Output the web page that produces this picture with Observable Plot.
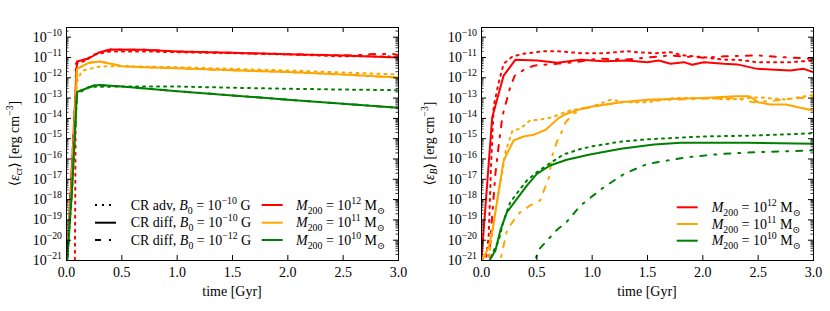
<!DOCTYPE html>
<html><head><meta charset="utf-8">
<script src="https://cdn.jsdelivr.net/npm/d3@7"></script>
<script src="https://cdn.jsdelivr.net/npm/@observablehq/plot@0.6"></script>
<style>body{margin:0;background:#fff} #wrap{display:flex;width:830px;height:311px;overflow:hidden}</style>
</head><body><div id="wrap"></div>
<script>
// ---- data: [time in Gyr, log10(energy density in erg cm^-3)] ----
// left panel: cosmic-ray energy density <eps_cr>
const crAdv12   = [[0.075,-22],[0.085,-11.3],[0.15,-11.2],[0.25,-10.85],[0.4,-10.7],[0.7,-10.7],[1.0,-10.74],[1.5,-10.79],[2.0,-10.85],[2.5,-10.94],[3.0,-10.95]];
const crDiff12  = [[0,-21.5],[0.05,-16.3],[0.095,-11.2],[0.2,-11.05],[0.3,-10.74],[0.4,-10.61],[0.7,-10.62],[1.0,-10.7],[1.5,-10.77],[2.0,-10.84],[2.5,-10.9],[3.0,-11.0]];
const crDiffB12 = [[0,-21.5],[0.05,-16.3],[0.095,-11.2],[0.2,-11.05],[0.3,-10.74],[0.4,-10.61],[0.7,-10.62],[1.0,-10.7],[1.5,-10.77],[2.0,-10.84],[2.6,-10.9],[2.8,-10.82],[2.95,-10.83],[3.0,-10.88]];
const crAdv11   = [[0,-21.5],[0.05,-17],[0.095,-12.2],[0.126,-11.8],[0.15,-11.64],[0.3,-11.44],[0.5,-11.43],[1.0,-11.48],[1.5,-11.56],[2.0,-11.64],[2.5,-11.74],[3.0,-11.84]];
const crDiff11  = [[0,-21.5],[0.05,-16.9],[0.095,-11.56],[0.2,-11.26],[0.3,-11.2],[0.4,-11.31],[0.5,-11.43],[0.7,-11.48],[1.0,-11.53],[1.5,-11.63],[2.0,-11.72],[2.5,-11.84],[3.0,-11.99]];
const crDiffB11 = [[0,-21.5],[0.05,-16.9],[0.095,-11.56],[0.2,-11.26],[0.3,-11.2],[0.4,-11.31],[0.5,-11.43],[0.7,-11.48],[1.0,-11.53],[1.5,-11.63],[2.0,-11.72],[2.5,-11.84],[3.0,-11.99]];
const crAdv10   = [[0,-21.5],[0.05,-17.5],[0.095,-12.8],[0.2,-12.45],[0.5,-12.43],[1.0,-12.43],[1.5,-12.49],[2.0,-12.54],[2.5,-12.58],[3.0,-12.61]];
const crDiff10  = [[0,-21.5],[0.05,-17.5],[0.095,-12.7],[0.25,-12.38],[0.3,-12.36],[0.5,-12.43],[1.0,-12.66],[1.5,-12.87],[2.0,-13.08],[2.5,-13.28],[3.0,-13.48]];
const crDiffB10 = [[0,-21.5],[0.05,-17.5],[0.095,-12.7],[0.25,-12.38],[0.3,-12.36],[0.5,-12.43],[1.0,-12.66],[1.5,-12.87],[2.0,-13.08],[2.5,-13.28],[3.0,-13.48]];
// right panel: magnetic energy density <eps_B>
const bAdv12   = [[0.03,-21.5],[0.066,-19.7],[0.085,-16.5],[0.11,-13.4],[0.156,-12.22],[0.2,-11.31],[0.28,-10.95],[0.38,-10.82],[0.56,-10.69],[0.71,-10.7],[0.9,-10.79],[1.1,-10.79],[1.32,-10.69],[1.4,-10.74],[1.58,-10.79],[1.71,-10.74],[1.83,-10.9],[2.01,-10.99],[2.19,-11.11],[2.31,-11.11],[2.49,-11.23],[2.79,-11.23],[3.0,-11.15]];
const bDiff12  = [[0,-20.9],[0.097,-13.94],[0.2,-11.89],[0.307,-11.11],[0.503,-11.15],[0.684,-11.26],[0.895,-11.11],[1.105,-11.18],[1.316,-11.15],[1.497,-11.23],[1.602,-11.15],[1.708,-11.31],[1.828,-11.23],[1.904,-11.36],[2.009,-11.23],[2.19,-11.31],[2.31,-11.34],[2.49,-11.56],[2.61,-11.59],[2.79,-11.64],[2.91,-11.56],[3.0,-11.72]];
const bDiffB12 = [[0.06,-21.5],[0.08,-20.0],[0.126,-16.7],[0.156,-15.3],[0.19,-13.86],[0.26,-12.46],[0.3,-11.9],[0.41,-11.51],[0.49,-11.39],[0.7,-11.3],[0.85,-11.23],[1.05,-11.06],[1.3,-11.1],[1.5,-11.0],[1.7,-10.9],[2.01,-11.01],[2.2,-10.94],[2.5,-10.9],[2.8,-11.01],[2.95,-11.05],[3.0,-11.1]];
const bAdv11   = [[0.05,-21.5],[0.097,-19.69],[0.126,-18.54],[0.19,-16.57],[0.22,-15.58],[0.28,-14.6],[0.35,-14.51],[0.44,-14.1],[0.52,-14.07],[0.62,-13.97],[0.8,-13.61],[0.98,-13.45],[1.17,-13.08],[1.3,-13.2],[1.5,-13.2],[1.75,-12.99],[2.0,-12.99],[2.25,-13.07],[2.5,-12.96],[2.75,-13.07],[3.0,-12.84]];
const bDiff11  = [[0,-21.2],[0.02,-20.84],[0.066,-20.34],[0.11,-19.19],[0.156,-17.55],[0.2,-16.07],[0.29,-15.09],[0.38,-14.89],[0.47,-14.81],[0.58,-14.56],[0.7,-13.97],[0.77,-13.77],[0.9,-13.53],[1.0,-13.41],[1.26,-13.2],[1.5,-13.08],[2.0,-12.99],[2.3,-12.91],[2.42,-12.91],[2.5,-13.2],[2.61,-13.32],[2.75,-13.32],[2.88,-13.48],[3.0,-13.61]];
const bDiffB11 = [[0.15,-21.5],[0.19,-20.5],[0.23,-19.52],[0.29,-19.03],[0.35,-18.62],[0.44,-18.29],[0.53,-18.04],[0.61,-16.9],[0.64,-15.83],[0.68,-15.17],[0.73,-14.6],[0.76,-14.19],[0.83,-13.77],[0.92,-13.53],[1.0,-13.42],[1.25,-13.22],[1.5,-13.12],[2.0,-13.03],[2.3,-13.0],[2.45,-13.2],[2.6,-13.15],[2.8,-13.03],[3.0,-12.95]];
const bAdv10   = [[0.05,-21.5],[0.097,-20.67],[0.156,-20.01],[0.2,-19.03],[0.26,-18.13],[0.34,-17.55],[0.41,-17.06],[0.5,-16.65],[0.61,-16.24],[0.74,-15.78],[0.9,-15.5],[1.0,-15.38],[1.25,-15.15],[1.5,-15.03],[2.0,-14.89],[2.5,-14.84],[3.0,-14.73]];
const bDiff10  = [[0.05,-21.5],[0.08,-20.92],[0.126,-20.51],[0.17,-19.52],[0.23,-18.62],[0.31,-18.04],[0.41,-17.31],[0.5,-16.73],[0.62,-16.32],[0.77,-16.04],[0.98,-15.78],[1.26,-15.5],[1.56,-15.29],[1.8,-15.2],[2.4,-15.2],[3.0,-15.25]];
const bDiffB10 = [[0.45,-21.5],[0.52,-20.45],[0.68,-19.5],[0.77,-19.1],[0.895,-18.29],[1.105,-17.39],[1.29,-16.73],[1.5,-16.24],[1.86,-15.91],[2.19,-15.74],[2.49,-15.66],[3.0,-15.58]];

// ---- ticks / labels ----
const xTickValues = [0, 0.5, 1.0, 1.5, 2.0, 2.5, 3.0];
const xInnerTicks = [0.5, 1.0, 1.5, 2.0, 2.5];
const yExponents = [-21,-20,-19,-18,-17,-16,-15,-14,-13,-12,-11,-10];
const yDomain = [1e-21, 3e-10];
const massExponents = ["12", "11", "10"];
const massColors = {"12": "red", "11": "orange", "10": "green"};
const styleNames = ["CR adv", "CR diff", "CR diff"];
const styleB0 = ["−10", "−10", "−12"];
const xLabel = "time [Gyr]";

// ---- layout ----
const W = 415, H = 311, ML = 66, MR = 17, MT = 27, MB = 51, FS = 14;
const FW = W - ML - MR, FH = H - MT - MB;
const DASH = {adv: "2,5", diff: undefined, diffB: "6,8,2,8"};
const LW = 2;
const FONT = "'Liberation Serif', 'DejaVu Serif', serif";

function rows(arr) { return arr.map(([t, l]) => ({t, v: Math.pow(10, l)})); }

function setRich(node, parts) {
  const t = d3.select(node);
  t.text(null).style("font-size", FS + "px").style("font-family", FONT);
  let shift = 0;
  for (const [s, k] of parts) {
    const small = k.includes("sub") || k.includes("sup");
    const target = k.includes("sub") ? 0.28 * FS : k.includes("sup") ? -0.42 * FS : 0;
    const ts = t.append("tspan").text(s).style("font-size", (small ? 0.7 * FS : FS) + "px").attr("dy", target - shift);
    if (k === "i" || k === "subi") ts.attr("font-style", "italic");
    shift = target;
  }
}

function panel(series, yLabelParts, legend) {
  const yMajor = yExponents.map(e => Math.pow(10, e));
  const yMinor = [];
  for (let e = -21; e <= -10; e++) for (let m = 2; m <= 9; m++) { const v = m * Math.pow(10, e); if (v <= yDomain[1] * 1.0001) yMinor.push(v); }
  const marks = [];
  for (const s of series) {
    marks.push(Plot.line(rows(s.data), {x: "t", y: "v", stroke: massColors[s.mass], strokeWidth: LW, strokeDasharray: DASH[s.kind], clip: true}));
  }
  marks.push(
    Plot.tickY(yMajor, {y: d => d, insetRight: FW - 5, stroke: "black", strokeWidth: 1}),
    Plot.tickY(yMajor, {y: d => d, insetLeft: FW - 5, stroke: "black", strokeWidth: 1}),
    Plot.tickY(yMinor, {y: d => d, insetRight: FW - 2.5, stroke: "black", strokeWidth: 0.8}),
    Plot.tickY(yMinor, {y: d => d, insetLeft: FW - 2.5, stroke: "black", strokeWidth: 0.8}),
    Plot.tickX(xInnerTicks, {x: d => d, insetTop: FH - 5, stroke: "black", strokeWidth: 1}),
    Plot.tickX(xInnerTicks, {x: d => d, insetBottom: FH - 5, stroke: "black", strokeWidth: 1}),
    Plot.axisX({ticks: xTickValues, tickFormat: d3.format(".1f"), tickSize: 0, tickPadding: 7, label: null, fontSize: FS}),
    Plot.axisY({ticks: yMajor, tickFormat: d => "10^" + Math.round(Math.log10(d)), tickSize: 0, tickPadding: 4.5, label: null, fontSize: FS}),
    Plot.frame({stroke: "black", strokeWidth: 1})
  );
  const svg = Plot.plot({
    width: W, height: H, marginLeft: ML, marginRight: MR, marginTop: MT, marginBottom: MB,
    style: {fontFamily: FONT, fontSize: FS + "px", color: "black", background: "white"},
    x: {domain: [0, 3]},
    y: {type: "log", domain: yDomain},
    marks
  });
  const S = d3.select(svg);
  S.selectAll("text").style("font-size", FS + "px").style("font-family", FONT).each(function () {
    const m = /^10\^(-?\d+)$/.exec(this.textContent);
    if (m) setRich(this, [["10", ""], [m[1].replace("-", "−"), "sup"]]);
  });
  // axis titles
  const yl = S.append("text").attr("transform", `translate(18.5,${MT + FH / 2}) rotate(-90)`)
    .attr("text-anchor", "middle").attr("fill", "black").node();
  setRich(yl, yLabelParts);
  S.append("text").attr("x", ML + FW / 2).attr("y", 296).attr("text-anchor", "middle").attr("fill", "black")
    .style("font-size", FS + "px").style("font-family", FONT).text(xLabel);
  // legend
  const g = S.append("g").attr("fill", "black").attr("text-anchor", "start");
  for (const item of legend) {
    g.append("line").attr("x1", item.x0).attr("x2", item.x0 + 21).attr("y1", item.y).attr("y2", item.y)
      .attr("stroke", item.color).attr("stroke-width", LW).attr("stroke-dasharray", item.dash || null);
    const tx = g.append("text").attr("x", item.tx).attr("y", item.y + 0.33 * FS).attr("text-anchor", "start").node();
    setRich(tx, item.parts);
  }
  return svg;
}

function massParts(e) { return [["M", "i"], ["200", "sub"], [" = 10", ""], [e, "sup"], [" M", ""], ["⊙", "sub"]]; }
function styleParts(i) { return [[styleNames[i] + ", ", ""], ["B", "i"], ["0", "sub"], [" = 10", ""], [styleB0[i], "sup"], [" G", ""]]; }

const leftRows = [205, 222.7, 240];
const rightRows = [207.3, 224, 240.7];
const styleKinds = ["adv", "diff", "diffB"];

const leftLegend = [];
styleKinds.forEach((k, i) => leftLegend.push({x0: 95, tx: 130.7, y: leftRows[i], color: "black", dash: DASH[k], parts: styleParts(i)}));
massExponents.forEach((e, i) => leftLegend.push({x0: 261.7, tx: 296, y: leftRows[i], color: massColors[e], parts: massParts(e)}));
const rightLegend = massExponents.map((e, i) => ({x0: 261.7, tx: 296.7, y: rightRows[i], color: massColors[e], parts: massParts(e)}));

const leftSeries = [
  {mass: "12", kind: "adv", data: crAdv12}, {mass: "12", kind: "diff", data: crDiff12}, {mass: "12", kind: "diffB", data: crDiffB12},
  {mass: "11", kind: "adv", data: crAdv11}, {mass: "11", kind: "diff", data: crDiff11}, {mass: "11", kind: "diffB", data: crDiffB11},
  {mass: "10", kind: "adv", data: crAdv10}, {mass: "10", kind: "diff", data: crDiff10}, {mass: "10", kind: "diffB", data: crDiffB10}
];
const rightSeries = [
  {mass: "12", kind: "adv", data: bAdv12}, {mass: "12", kind: "diff", data: bDiff12}, {mass: "12", kind: "diffB", data: bDiffB12},
  {mass: "11", kind: "adv", data: bAdv11}, {mass: "11", kind: "diff", data: bDiff11}, {mass: "11", kind: "diffB", data: bDiffB11},
  {mass: "10", kind: "adv", data: bAdv10}, {mass: "10", kind: "diff", data: bDiff10}, {mass: "10", kind: "diffB", data: bDiffB10}
];

const wrap = document.getElementById("wrap");
wrap.appendChild(panel(leftSeries, [["⟨", ""], ["ε", "i"], ["cr", "sub"], ["⟩ [erg cm", ""], ["−3", "sup"], ["]", ""]], leftLegend));
wrap.appendChild(panel(rightSeries, [["⟨", ""], ["ε", "i"], ["B", "subi"], ["⟩ [erg cm", ""], ["−3", "sup"], ["]", ""]], rightLegend));
</script></body></html>
